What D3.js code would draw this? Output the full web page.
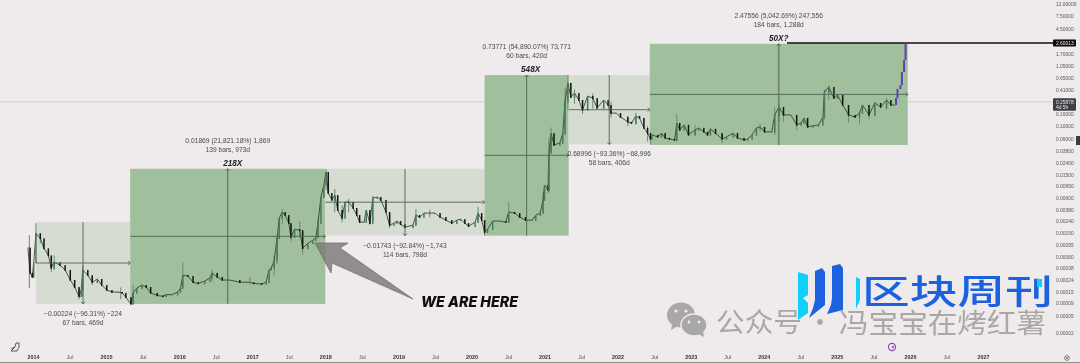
<!DOCTYPE html>
<html>
<head>
<meta charset="utf-8">
<script src="https://cdn.jsdelivr.net/npm/d3@7.9.0/dist/d3.min.js"></script>
<style>
  html, body { margin: 0; padding: 0; background: #efeaeb; }
  svg { display: block; font-family: "Liberation Sans", Arial, sans-serif; }
</style>
</head>
<body>
<div id="chart"></div>
<script>
// weekly closes, time as decimal years
const candleYears = [
  2013.93, 2013.96, 2013.99, 2014.01, 2014.04, 2014.10, 2014.15, 2014.21, 2014.25, 2014.29, 2014.37, 2014.44,
  2014.51, 2014.57, 2014.63, 2014.66, 2014.68, 2014.75, 2014.81, 2014.88, 2014.94, 2015.01, 2015.08, 2015.16,
  2015.22, 2015.27, 2015.34, 2015.37, 2015.42, 2015.49, 2015.55, 2015.61, 2015.70, 2015.78, 2015.82, 2015.90,
  2015.98, 2016.02, 2016.05, 2016.12, 2016.19, 2016.26, 2016.35, 2016.42, 2016.45, 2016.52, 2016.59, 2016.69,
  2016.83, 2016.97, 2017.02, 2017.13, 2017.19, 2017.23, 2017.26, 2017.30, 2017.34, 2017.37, 2017.41, 2017.45,
  2017.50, 2017.53, 2017.58, 2017.65, 2017.69, 2017.76, 2017.83, 2017.87, 2017.90, 2017.94, 2017.98, 2018.01,
  2018.04, 2018.09, 2018.13, 2018.17, 2018.23, 2018.27, 2018.32, 2018.38, 2018.43, 2018.47, 2018.53, 2018.56,
  2018.61, 2018.65, 2018.71, 2018.76, 2018.83, 2018.88, 2018.94, 2018.98, 2019.03, 2019.09, 2019.20, 2019.24,
  2019.29, 2019.35, 2019.43, 2019.50, 2019.57, 2019.65, 2019.73, 2019.80, 2019.85, 2019.91, 2019.96, 2020.05,
  2020.09, 2020.14, 2020.18, 2020.22, 2020.29, 2020.39, 2020.47, 2020.51, 2020.59, 2020.66, 2020.74, 2020.83,
  2020.88, 2020.94, 2020.98, 2021.00, 2021.05, 2021.06, 2021.09, 2021.13, 2021.21, 2021.25, 2021.28, 2021.32,
  2021.36, 2021.41, 2021.47, 2021.52, 2021.59, 2021.66, 2021.72, 2021.81, 2021.87, 2021.91, 2021.98, 2022.04,
  2022.14, 2022.19, 2022.25, 2022.30, 2022.36, 2022.41, 2022.45, 2022.47, 2022.55, 2022.60, 2022.65, 2022.71,
  2022.78, 2022.81, 2022.85, 2022.91, 2022.97, 2023.06, 2023.11, 2023.18, 2023.23, 2023.27, 2023.34, 2023.43,
  2023.49, 2023.58, 2023.64, 2023.73, 2023.78, 2023.84, 2023.90, 2023.95, 2024.01, 2024.11, 2024.15, 2024.21,
  2024.27, 2024.37, 2024.45, 2024.51, 2024.55, 2024.60, 2024.67, 2024.75, 2024.81, 2024.83, 2024.89, 2024.96,
  2025.01, 2025.08, 2025.16, 2025.25, 2025.31, 2025.35, 2025.44, 2025.52, 2025.60, 2025.68, 2025.74, 2025.79
];
const candleCloses = [
  .00086, .000317, .00027, .00048, .0015, .00123, .00083, .00063, .000385, .00048, .00043, .000356,
  .00024, .000182, .000123, .000162, .000356, .00029, .00022, .00025, .000197, .000162, .00015, .00015,
  .000144, .000118, .000087, .000144, .000175, .000197, .000182, .000144, .000128, .000123, .000133, .000133,
  .00015, .000175, .00029, .00028, .00022, .00021, .00023, .00026, .000317, .00027, .00024, .00024,
  .00022, .00022, .00021, .000205, .00022, .000356, .000385, .00051, .00123, .00272, .00345, .00306,
  .00223, .00128, .00176, .00169, .00083, .00101, .00114, .00128, .00223, .00621, .00995, .0166,
  .00726, .00552, .0067, .00373, .00272, .00511, .0051, .00404, .00306, .00232, .00232, .00373,
  .00223, .00597, .00621, .00552, .00345, .00206, .00223, .00242, .00214, .0019, .00206, .00306,
  .00283, .00331, .00331, .00331, .00283, .00251, .00223, .00251, .00261, .00223, .00198, .00232,
  .00331, .00251, .00156, .00176, .00242, .00242, .00232, .00345, .00331, .00283, .00251, .00251,
  .00306, .00331, .00552, .00995, .00817, .0348, .076, .0477, .0517, .076, .258, .543,
  .312, .366, .278, .188, .325, .30, .204, .278, .229, .167, .167, .143,
  .118, .113, .149, .138, .093, .076, .0605, .071, .0655, .076, .063, .0605,
  .058, .113, .086, .105, .071, .086, .093, .08, .071, .09, .076, .0605,
  .0655, .076, .063, .058, .0605, .071, .093, .097, .08, .08, .155, .212,
  .155, .155, .105, .113, .138, .097, .101, .105, .143, .381, .465, .30,
  .338, .229, .155, .143, .167, .229, .155, .248, .212, .278, .229, .229
];

// the last few bars are coloured differently on the original
const projYears = [2025.79, 2025.81, 2025.83, 2025.87, 2025.89, 2025.92, 2025.94];
const projCloses = [.229, .30, .429, .501, .833, 1.34, 2.6];

const wickYears = [
  2013.95, 2014.04, 2014.10, 2014.25, 2014.29, 2014.63, 2014.68, 2014.81, 2015.20, 2015.37, 2016.05, 2016.45,
  2016.97, 2017.30, 2017.34, 2017.41, 2017.53, 2017.65, 2017.69, 2017.90, 2018.01, 2018.13, 2018.23, 2018.32,
  2018.61, 2018.65, 2018.88, 2019.24, 2019.43, 2020.09, 2020.18, 2020.51, 2020.98, 2021.05, 2021.06, 2021.09,
  2021.28, 2021.32, 2021.41, 2021.52, 2021.66, 2021.91, 2022.14, 2022.25, 2022.41, 2022.45, 2022.81, 2023.06,
  2023.43, 2023.95, 2024.15, 2024.21, 2024.27, 2024.45, 2024.83, 2024.89, 2025.16, 2025.31, 2025.44, 2025.52, 2025.68
];
const wickHighs = [
  .00139, .00223, .0015, .00058, .00063, .00017, .00043, .00026, .00018, .000197, .00048, .000356,
  .00027, .00063, .00139, .0039, .0021, .00242, .0016, .0028, .0185, .0085, .0045, .0058,
  .0034, .0065, .0033, .0039, .0038, .0042, .0025, .0051, .0075, .0175, .065, .095,
  .447, .745, .42, .27, .36, .26, .15, .17, .1, .078, .16, .105,
  .075, .11, .21, .25, .2, .125, .42, .5, .21, .175, .17, .26, .3
];
const wickLows = [
  .000175, .00114, .00101, .00033, .000356, .000107, .000123, .000197, .000108, .000087, .00018, .00022,
  .0002, .00029, .00045, .0021, .0011, .00125, .00065, .00125, .0082, .0034, .0023, .0034,
  .0021, .0024, .00185, .0021, .0028, .0024, .00135, .0024, .0034, .0072, .0075, .036,
  .07, .19, .24, .16, .2, .14, .1, .105, .055, .049, .055, .07,
  .052, .08, .07, .12, .12, .085, .13, .28, .115, .11, .13, .15, .19
];

// long / short measure boxes
const boxStarts = [2014.04, 2015.33, 2018.0, 2020.18, 2021.33, 2022.44];
const boxEnds = [2015.33, 2018.0, 2020.18, 2021.33, 2022.44, 2025.97];
const boxHighs = [.00232, .0188, .0188, .739, .739, 2.52];
const boxLows = [.000087, .000087, .00137, .00137, .049, .0478];
const boxUp = [false, true, false, true, false, true];
const boxLine1 = [
  '\u22120.00224 (\u221296.31%) \u2212224', '0.01869 (21,821.18%) 1,869', '\u22120.01743 (\u221292.84%) \u22121,743',
  '0.73771 (54,890.07%) 73,771', '0.68996 (\u221293.36%) \u221268,996', '2.47556 (5,042.69%) 247,556'
];
const boxLine2 = ['67 bars, 469d', '139 bars, 973d', '114 bars, 798d', '60 bars, 420d', '58 bars, 406d', '184 bars, 1,288d'];
const boxTitle = ['', '218X', '', '548X', '', '50X?'];

const yTicks = [12, 7.5, 4.5, 1.7, 1.05, .65, .41, .16, .10, .06, .038, .024, .015, .0095, .006, .0038, .0024, .0015,
  .00095, .0006, .00038, .00024, .00015, .00009, .00005, .00002];
const xTickYears = d3.range(2014, 2027.5, 0.5);
const lastPrice = 2.60013;
const currentPrice = 0.25878;

const width = 1080, height = 363;
const colors = { bg: '#efeaeb', green: '#a0bf9d', grey: '#d6dcd2', axis: '#555', line: '#4d6152' };

const x = d3.scaleLinear().domain([2014, 2027]).range([33, 983]);
// axis is not quite a clean log at the very bottom, so piecewise
const y = d3.scaleLog().domain([12, .00015, .00005, .00002]).range([4, 292, 316, 333]);

const svg = d3.select('#chart').append('svg')
  .attr('width', width).attr('height', height)
  .attr('viewBox', `0 0 ${width} ${height}`);

svg.append('rect').attr('width', width).attr('height', height).attr('fill', colors.bg);

const defs = svg.append('defs');
defs.append('filter').attr('id', 'soft').append('feGaussianBlur').attr('stdDeviation', 0.35);

const plot = svg.append('g').attr('filter', 'url(#soft)');

// current price line, behind everything
plot.append('line')
  .attr('x1', 0).attr('x2', 1053)
  .attr('y1', y(currentPrice)).attr('y2', y(currentPrice))
  .attr('stroke', '#d2cfce').attr('stroke-width', 1);

// boxes
const boxes = d3.range(boxStarts.length).map(i => ({
  x0: x(boxStarts[i]), x1: x(boxEnds[i]), y0: y(boxHighs[i]), y1: y(boxLows[i]),
  up: boxUp[i], line1: boxLine1[i], line2: boxLine2[i], title: boxTitle[i]
}));

plot.append('g').selectAll('rect')
  .data(boxes)
  .join('rect')
  .attr('x', d => d.x0).attr('y', d => d.y0)
  .attr('width', d => d.x1 - d.x0).attr('height', d => d.y1 - d.y0)
  .attr('fill', d => d.up ? colors.green : colors.grey);

// wicks
plot.append('g').selectAll('line')
  .data(d3.range(wickYears.length))
  .join('line')
  .attr('x1', i => x(wickYears[i])).attr('x2', i => x(wickYears[i]))
  .attr('y1', i => y(wickHighs[i])).attr('y2', i => y(wickLows[i]))
  .attr('stroke', '#6b8a72').attr('stroke-width', 1);

// closes joined up, then the bodies
const closeLine = d3.line().x(i => x(candleYears[i])).y(i => y(candleCloses[i]));
plot.append('path')
  .attr('d', closeLine(d3.range(candleYears.length)))
  .attr('fill', 'none').attr('stroke', '#2a332c').attr('stroke-width', 0.8);

plot.append('g').selectAll('rect')
  .data(d3.range(1, candleYears.length))
  .join('rect')
  .attr('x', i => x(candleYears[i]) - 0.75)
  .attr('width', 1.5)
  .attr('y', i => y(Math.max(candleCloses[i], candleCloses[i - 1])))
  .attr('height', i => Math.abs(y(candleCloses[i]) - y(candleCloses[i - 1])) + 0.8)
  .attr('fill', i => candleCloses[i] >= candleCloses[i - 1] ? '#467a55' : '#111411');

// measure lines + arrow heads
const measure = plot.append('g').attr('fill', 'none').attr('stroke', colors.line).attr('stroke-width', 0.9);
boxes.forEach((b, i) => {
  const cx = (b.x0 + b.x1) / 2, cy = (b.y0 + b.y1) / 2;
  const wide = i === 5 ? 1.6 : 0.9;
  const vy = b.up ? b.y0 : b.y1, dir = b.up ? 2 : -2;
  measure.append('path').attr('d', `M${b.x0},${cy}H${b.x1}M${b.x1 - 2},${cy - 2}L${b.x1},${cy}L${b.x1 - 2},${cy + 2}`);
  measure.append('path').attr('stroke-width', wide).attr('stroke-opacity', i === 5 ? 0.6 : 1)
    .attr('d', `M${cx},${b.y1}V${b.y0}`);
  measure.append('path').attr('d', `M${cx - 2},${vy + dir}L${cx},${vy}L${cx + 2},${vy + dir}`);
});

// last price line at the top of the move
plot.append('line')
  .attr('x1', 787).attr('x2', 1053)
  .attr('y1', y(lastPrice)).attr('y2', y(lastPrice))
  .attr('stroke', '#0a0a0a').attr('stroke-width', 1.4);

// purple bars on the end
plot.append('g').selectAll('rect')
  .data(d3.range(1, projYears.length))
  .join('rect')
  .attr('x', i => x(projYears[i]) - 1)
  .attr('width', 2)
  .attr('y', i => y(projCloses[i]))
  .attr('height', i => y(projCloses[i - 1]) - y(projCloses[i]))
  .attr('fill', '#5a43ae');

// box texts
const labels = plot.append('g').attr('text-anchor', 'middle').attr('font-size', 6.7).attr('fill', '#4a4a4a');
const titleShift = [0, 5, 0, 4, 0, 0];
boxes.forEach((b, i) => {
  const cx = (b.x0 + b.x1) / 2;
  const lines = b.up ? [[b.line1, b.y0 - 26], [b.line2, b.y0 - 17]] : [[b.line1, b.y1 + 12], [b.line2, b.y1 + 21]];
  lines.forEach(([t, yy]) => labels.append('text').attr('x', cx).attr('y', yy).text(t));
  if (b.title) {
    labels.append('text').attr('x', cx + titleShift[i]).attr('y', b.y0 - 3)
      .attr('font-size', 8.2).attr('font-weight', 700).attr('font-style', 'italic').attr('fill', '#222')
      .text(b.title);
  }
});

// big arrow + note
plot.append('path')
  .attr('d', 'M315,243L348,243L340,248L413,299L332,263L331,273Z')
  .attr('fill', '#7f7d7c').attr('fill-opacity', 0.85)
  .attr('stroke', '#6a6a68').attr('stroke-width', 0.7);
plot.append('text')
  .attr('x', 421).attr('y', 306.5)
  .attr('font-family', 'Inter, "Liberation Sans", sans-serif')
  .attr('font-size', 15).attr('font-weight', 800).attr('font-style', 'italic')
  .attr('fill', '#0c0c0c').attr('textLength', 97).attr('lengthAdjust', 'spacingAndGlyphs')
  .text('WE ARE HERE');

// axes
const yAxis = d3.axisRight(y).tickValues(yTicks).tickSize(0).tickPadding(0)
  .tickFormat(d => d.toFixed(5));
const yG = plot.append('g').attr('transform', 'translate(1056,0)').call(yAxis);
yG.select('.domain').remove();
yG.selectAll('text').attr('font-size', 4.9).attr('fill', colors.axis).attr('font-family', '"Liberation Sans", sans-serif');

const xAxis = d3.axisBottom(x).tickValues(xTickYears).tickSize(0).tickPadding(0)
  .tickFormat(d => Number.isInteger(d) ? d : 'Jul');
const xG = plot.append('g').attr('transform', 'translate(0,355)').call(xAxis);
xG.select('.domain').remove();
xG.selectAll('text')
  .attr('font-size', 5.4).attr('fill', d => Number.isInteger(d) ? '#333' : colors.axis)
  .attr('font-weight', d => Number.isInteger(d) ? 700 : 400)
  .attr('font-family', '"Liberation Sans", sans-serif');

plot.append('line').attr('x1', 0).attr('x2', width).attr('y1', 362.5).attr('y2', 362.5)
  .attr('stroke', '#8f8f8f').attr('stroke-width', 1.2);

// price tags on the scale
function priceTag(price, lines, fill) {
  const py = y(price);
  const h = lines.length * 5.5 + 1.5;
  plot.append('rect').attr('x', 1053).attr('y', py - 3.5).attr('width', 23).attr('height', h).attr('rx', 1).attr('fill', fill);
  lines.forEach((t, i) => plot.append('text')
    .attr('x', 1056).attr('y', py + 1.8 + i * 5.5)
    .attr('font-size', 4.9).attr('fill', '#e8e8e8').text(t));
}
priceTag(lastPrice, ['2.60013'], '#0b0b0b');
priceTag(currentPrice, ['0.25878', '4d 5h'], '#3d3f47');
plot.append('rect').attr('x', 1076).attr('y', 136).attr('width', 4).attr('height', 9).attr('fill', '#3a3a3a');

// little icons on the axis row
plot.append('path')
  .attr('d', 'M11,351 L15,347 L16,343 L19,343 L19,347 L17,351 Z M15,347 L11,349')
  .attr('fill', 'none').attr('stroke', '#333').attr('stroke-width', 0.8);
plot.append('circle').attr('cx', 892).attr('cy', 347).attr('r', 3.6)
  .attr('fill', 'none').attr('stroke', '#7a55c0').attr('stroke-width', 1.2);
plot.append('circle').attr('cx', 893).attr('cy', 347).attr('r', 1.2).attr('fill', '#d05a60');
plot.append('circle').attr('cx', 1067).attr('cy', 358).attr('r', 2.4)
  .attr('fill', 'none').attr('stroke', '#555').attr('stroke-width', 0.7);
plot.append('path').attr('d', 'M1065.8,356.8L1068.2,359.2M1068.2,356.8L1065.8,359.2')
  .attr('stroke', '#555').attr('stroke-width', 0.6);

// watermark
const wm = svg.append('g').attr('filter', 'url(#soft)').attr('font-family', '"Noto Sans CJK SC", sans-serif');
wm.append('g').attr('fill', '#a9a8a6').attr('font-size', 27).call(g => {
  g.append('text').attr('x', 716).attr('y', 332).attr('textLength', 86).attr('lengthAdjust', 'spacingAndGlyphs').text('公众号');
  g.append('text').attr('x', 820).attr('y', 332).attr('text-anchor', 'middle').text('·');
  g.append('text').attr('x', 839).attr('y', 332.5).attr('textLength', 207).attr('lengthAdjust', 'spacingAndGlyphs').text('冯宝宝在烤红薯');
});
wm.append('ellipse').attr('cx', 681).attr('cy', 315).attr('rx', 14).attr('ry', 12.5).attr('fill', '#a9a8a6');
wm.append('path').attr('d', 'M672,324L671,330L678,326Z').attr('fill', '#a9a8a6');
wm.append('ellipse').attr('cx', 694).attr('cy', 325).attr('rx', 13).attr('ry', 11).attr('fill', '#a9a8a6').attr('stroke', colors.bg).attr('stroke-width', 1.5);
wm.append('path').attr('d', 'M698,334L704,337L703,331Z').attr('fill', '#a9a8a6');
[[676, 311, 1.6], [686, 311, 1.6], [689, 322, 1.4], [699, 322, 1.4]].forEach(([cx, cy, r]) => {
  wm.append('circle').attr('cx', cx).attr('cy', cy).attr('r', r).attr('fill', colors.bg);
});

wm.append('path').attr('d', 'M798,272L808,275L808,295L803,298L808,303L808,313L798,320Z').attr('fill', '#10d0fb');
wm.append('path').attr('d', 'M815,271L822,268L825,272L825,305L809,318L813,308L815,300Z').attr('fill', '#1d62de');
wm.append('path').attr('d', 'M832,266L840,264L843,268L843,310L827,314L831,305L832,298Z').attr('fill', '#1d62de');
wm.append('path').attr('d', 'M856,277L860,279L860,300L856,309Z').attr('fill', '#10d0fb');

wm.append('text')
  .attr('x', 862).attr('y', 304)
  .attr('font-size', 34).attr('font-weight', 500).attr('fill', '#1d62de')
  .attr('textLength', 191).attr('lengthAdjust', 'spacingAndGlyphs')
  .text('区块周刊');
wm.append('rect').attr('x', 1037).attr('y', 279).attr('width', 5).attr('height', 8).attr('fill', '#10d0fb');
</script>
</body>
</html>
